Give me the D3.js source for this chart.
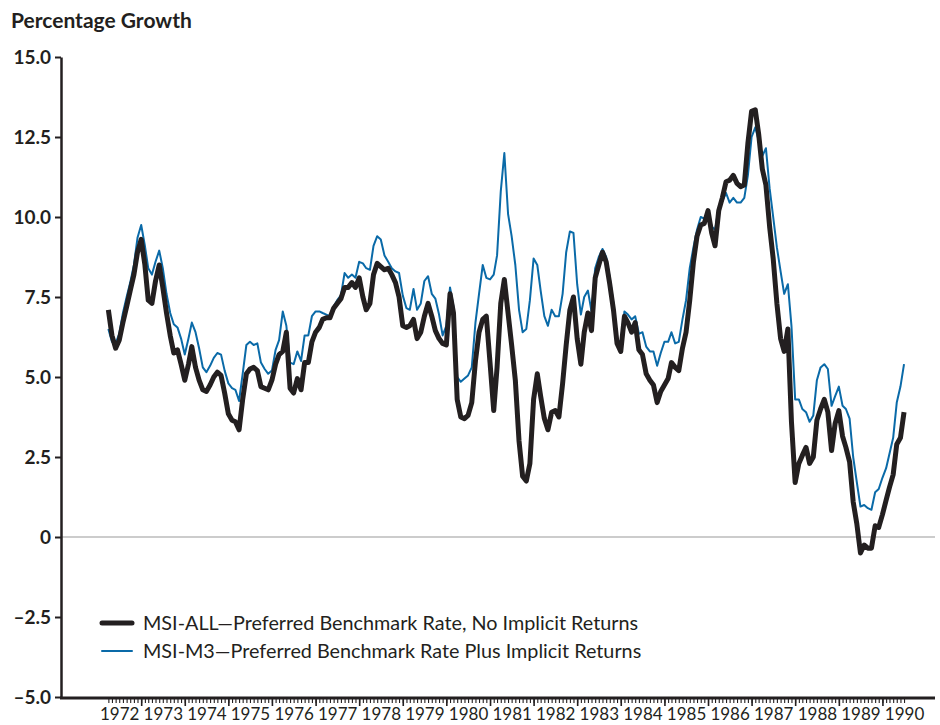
<!doctype html>
<meta charset="utf-8">
<script src="https://d3js.org/d3.v7.min.js"></script>
<style>
  body { margin: 0; background: #fff; }
  text { font-family: Lato, "Open Sans", sans-serif; fill: #231f20; }
</style>
<body></body>
<script>

var width = 940;
var height = 725;

// monthly series, April 1972 to July 1990
var firstMonth = "1972-04-01";

var msiAll = [
  7.1, 6.3, 5.9, 6.15, 6.7, 7.2, 7.7, 8.2, 8.9,                         // 1972
  9.3, 8.5, 7.4, 7.3, 8.0, 8.5, 7.8, 7.0, 6.3, 5.75, 5.85, 5.4,          // 1973
  4.9, 5.4, 5.95, 5.3, 4.9, 4.6, 4.55, 4.75, 5.0, 5.15, 5.05, 4.5,       // 1974
  3.85, 3.65, 3.6, 3.35, 4.3, 5.1, 5.25, 5.3, 5.2, 4.7, 4.65, 4.6,       // 1975
  4.9, 5.4, 5.7, 5.8, 6.4, 4.65, 4.5, 4.95, 4.6, 5.45, 5.45, 6.1,        // 1976
  6.4, 6.55, 6.8, 6.85, 6.85, 7.15, 7.3, 7.45, 7.8, 7.8, 7.95, 7.8,      // 1977
  8.1, 7.5, 7.1, 7.3, 8.2, 8.55, 8.45, 8.35, 8.4, 8.2, 7.95, 7.5,        // 1978
  6.6, 6.55, 6.6, 6.8, 6.2, 6.4, 6.9, 7.3, 6.9, 6.45, 6.2, 6.05,         // 1979
  6.0, 7.6, 7.0, 4.3, 3.75, 3.7, 3.8, 4.2, 5.5, 6.4, 6.8, 6.9,           // 1980
  5.45, 3.95, 5.3, 7.3, 8.05, 7.0, 6.0, 4.9, 3.0, 1.9, 1.75, 2.3,        // 1981
  4.3, 5.1, 4.4, 3.7, 3.35, 3.9, 3.95, 3.75, 4.8, 6.0, 7.1, 7.5,         // 1982
  6.2, 5.4, 6.4, 7.0, 6.45, 8.1, 8.5, 8.9, 8.6, 7.9, 7.1, 6.05,          // 1983
  5.8, 6.9, 6.7, 6.4, 6.7, 5.85, 5.7, 5.1, 4.9, 4.75, 4.2, 4.55,         // 1984
  4.75, 4.95, 5.45, 5.3, 5.2, 5.9, 6.4, 7.4, 8.6, 9.4, 9.75, 9.8,        // 1985
  10.2, 9.5, 9.1, 10.2, 10.6, 11.1, 11.15, 11.3, 11.05, 10.95, 11.0, 12.3, // 1986
  13.3, 13.35, 12.6, 11.5, 11.0, 9.7, 8.7, 7.3, 6.2, 5.8, 6.5, 3.6,      // 1987
  1.7, 2.3, 2.55, 2.8, 2.3, 2.5, 3.65, 4.0, 4.3, 3.9, 2.7, 3.55,         // 1988
  3.95, 3.15, 2.8, 2.35, 1.1, 0.4, -0.5, -0.25, -0.35, -0.35, 0.35, 0.3, // 1989
  0.7, 1.15, 1.55, 1.95, 2.9, 3.1, 3.9                                   // 1990
];

var msiM3 = [
  6.5, 6.1, 6.05, 6.35, 7.0, 7.5, 7.95, 8.5, 9.35,                       // 1972
  9.75, 9.1, 8.4, 8.2, 8.6, 8.95, 8.4, 7.6, 7.0, 6.65, 6.55, 6.2,        // 1973
  5.7, 6.2, 6.7, 6.4, 5.9, 5.3, 5.15, 5.35, 5.6, 5.75, 5.7, 5.2,         // 1974
  4.8, 4.65, 4.6, 4.25, 5.1, 6.0, 6.1, 6.0, 6.05, 5.45, 5.25, 5.1,       // 1975
  5.2, 5.85, 6.15, 7.05, 6.6, 5.45, 5.4, 5.8, 5.5, 6.3, 6.3, 6.9,        // 1976
  7.05, 7.05, 7.0, 6.95, 6.9, 7.2, 7.4, 7.55, 8.25, 8.1, 8.2, 8.1,       // 1977
  8.6, 8.55, 8.4, 8.35, 9.1, 9.4, 9.3, 8.8, 8.6, 8.4, 8.3, 8.25,         // 1978
  7.55, 7.15, 7.1, 7.75, 7.1, 7.3, 8.0, 8.15, 7.6, 7.45, 6.95, 6.3,      // 1979
  6.6, 7.8, 7.2, 5.0, 4.85, 4.95, 5.05, 5.3, 6.7, 7.6, 8.5, 8.1,         // 1980
  8.05, 8.2, 8.8, 10.8, 12.0, 10.1, 9.4, 8.5, 7.1, 6.4, 6.5, 7.4,        // 1981
  8.7, 8.5, 7.7, 6.9, 6.6, 7.1, 6.9, 6.9, 7.6, 8.9, 9.55, 9.5,           // 1982
  7.9, 6.95, 7.5, 7.7, 7.05, 8.4, 8.75, 9.0, 8.75, 8.1, 7.3, 6.15,       // 1983
  6.1, 7.05, 6.95, 6.8, 6.9, 6.35, 6.4, 5.95, 5.8, 5.8, 5.35, 5.75,      // 1984
  6.1, 6.1, 6.4, 6.05, 6.1, 6.8, 7.4, 8.4, 9.05, 9.6, 10.0, 9.95,        // 1985
  10.15, 9.7, 9.6, 10.3, 10.5, 10.75, 10.45, 10.6, 10.45, 10.45, 10.6, 11.3, // 1986
  12.5, 12.8, 12.4, 11.9, 12.15, 10.9, 10.0, 9.05, 8.3, 7.6, 7.9, 6.6,   // 1987
  4.3, 4.3, 4.0, 3.9, 3.6, 3.8, 4.9, 5.3, 5.4, 5.25, 4.1, 4.4,           // 1988
  4.7, 4.1, 4.0, 3.7, 2.5, 1.7, 0.95, 1.0, 0.9, 0.85, 1.4, 1.5,          // 1989
  1.85, 2.15, 2.6, 3.1, 4.2, 4.7, 5.4                                    // 1990
];

var yearLabels = ["1972", "1973", "1974", "1975", "1976", "1977", "1978", "1979", "1980",
  "1981", "1982", "1983", "1984", "1985", "1986", "1987", "1988", "1989", "1990"];
var yTicks = [-5, -2.5, 0, 2.5, 5, 7.5, 10, 12.5, 15];
var yTickLabels = ["\u20135.0", "\u20132.5", "0", "2.5", "5.0", "7.5", "10.0", "12.5", "15.0"];

var seriesNames = [
  "MSI-ALL\u2014Preferred Benchmark Rate, No Implicit Returns",
  "MSI-M3\u2014Preferred Benchmark Rate Plus Implicit Returns"
];

var ink = "#231f20";
var blue = "#0a6aa8";

var svg = d3.select("body")
        .append("svg")
        .attr("width", width)
        .attr("height", height);

var parse = d3.utcParse("%Y-%m-%d");
var start = parse(firstMonth);
var months = msiAll.map(function(d, i) { return d3.utcMonth.offset(start, i); });

var x = d3.scaleUtc()
        .domain([parse("1972-01-01"), parse("1991-01-01")])
        .range([97.5, 926]);

var y = d3.scaleLinear()
        .domain([-5, 15])
        .range([697, 57]);

// title
svg.append("text")
        .attr("x", 11)
        .attr("y", 28)
        .style("font-size", "21px")
        .style("font-weight", 700)
        .text("Percentage Growth");

// zero line
svg.append("line")
        .attr("x1", 61).attr("x2", 935)
        .attr("y1", y(0)).attr("y2", y(0))
        .style("stroke", "#9a9a9a")
        .style("stroke-width", 1.2);

// y axis
var yAxis = svg.append("g")
        .attr("transform", "translate(61,0)")
        .call(d3.axisLeft(y)
            .tickValues(yTicks)
            .tickSize(6)
            .tickSizeOuter(0)
            .tickPadding(4)
            .tickFormat(function(d, i) { return yTickLabels[i]; }));
yAxis.select(".domain").style("stroke", ink).style("stroke-width", 2.5);
yAxis.selectAll(".tick line").style("stroke", ink).style("stroke-width", 2);
yAxis.selectAll(".tick text")
        .style("font-family", "Lato, sans-serif")
        .style("font-size", "19px")
        .style("font-weight", 700)
        .style("fill", ink);

// x axis: monthly minor ticks, yearly major ticks, labels mid-year
var axisY = 698;
svg.append("g")
        .attr("transform", "translate(0," + axisY + ")")
        .call(d3.axisBottom(x).tickValues(months).tickSize(5).tickSizeOuter(0).tickFormat(""))
        .call(function(g) {
            g.select(".domain").remove();
            g.selectAll(".tick line").style("stroke", ink).style("stroke-width", 1.1);
        });

var januaries = months.filter(function(d) { return d.getUTCMonth() === 0; });
svg.append("g")
        .attr("transform", "translate(0," + axisY + ")")
        .call(d3.axisBottom(x).tickValues(januaries).tickSize(8).tickSizeOuter(0).tickFormat(""))
        .call(function(g) {
            g.select(".domain").remove();
            g.selectAll(".tick line").style("stroke", ink).style("stroke-width", 1.6);
        });

var midYears = yearLabels.map(function(d) { return parse(d + "-07-01"); });
svg.append("g")
        .attr("transform", "translate(0," + axisY + ")")
        .call(d3.axisBottom(x).tickValues(midYears).tickSize(0).tickPadding(10)
            .tickFormat(function(d, i) { return yearLabels[i]; }))
        .call(function(g) {
            g.select(".domain").remove();
            g.selectAll(".tick text")
                .style("font-family", "Lato, sans-serif")
                .style("font-size", "17px")
                .style("fill", ink);
        });

svg.append("line")
        .attr("x1", 60).attr("x2", 935)
        .attr("y1", axisY).attr("y2", axisY)
        .style("stroke", ink)
        .style("stroke-width", 3);

// lines
var line = d3.line()
        .x(function(d, i) { return x(months[i]); })
        .y(function(d) { return y(d); });

svg.append("path")
        .attr("d", line(msiM3))
        .style("fill", "none")
        .style("stroke", blue)
        .style("stroke-width", 2)
        .style("stroke-linejoin", "round");

svg.append("path")
        .attr("d", line(msiAll))
        .style("fill", "none")
        .style("stroke", ink)
        .style("stroke-width", 5)
        .style("stroke-linejoin", "round");

// legend
var legend = svg.append("g").attr("transform", "translate(102,623)");
[{w: 5, c: ink}, {w: 2, c: blue}].forEach(function(s, i) {
    legend.append("line")
            .attr("x1", 0).attr("x2", 30)
            .attr("y1", i * 28).attr("y2", i * 28)
            .style("stroke", s.c)
            .style("stroke-width", s.w)
            .style("stroke-linecap", "round");
    legend.append("text")
            .attr("x", 41)
            .attr("y", i * 28 + 7)
            .style("font-size", "19.8px")
            .text(seriesNames[i]);
});

</script>
